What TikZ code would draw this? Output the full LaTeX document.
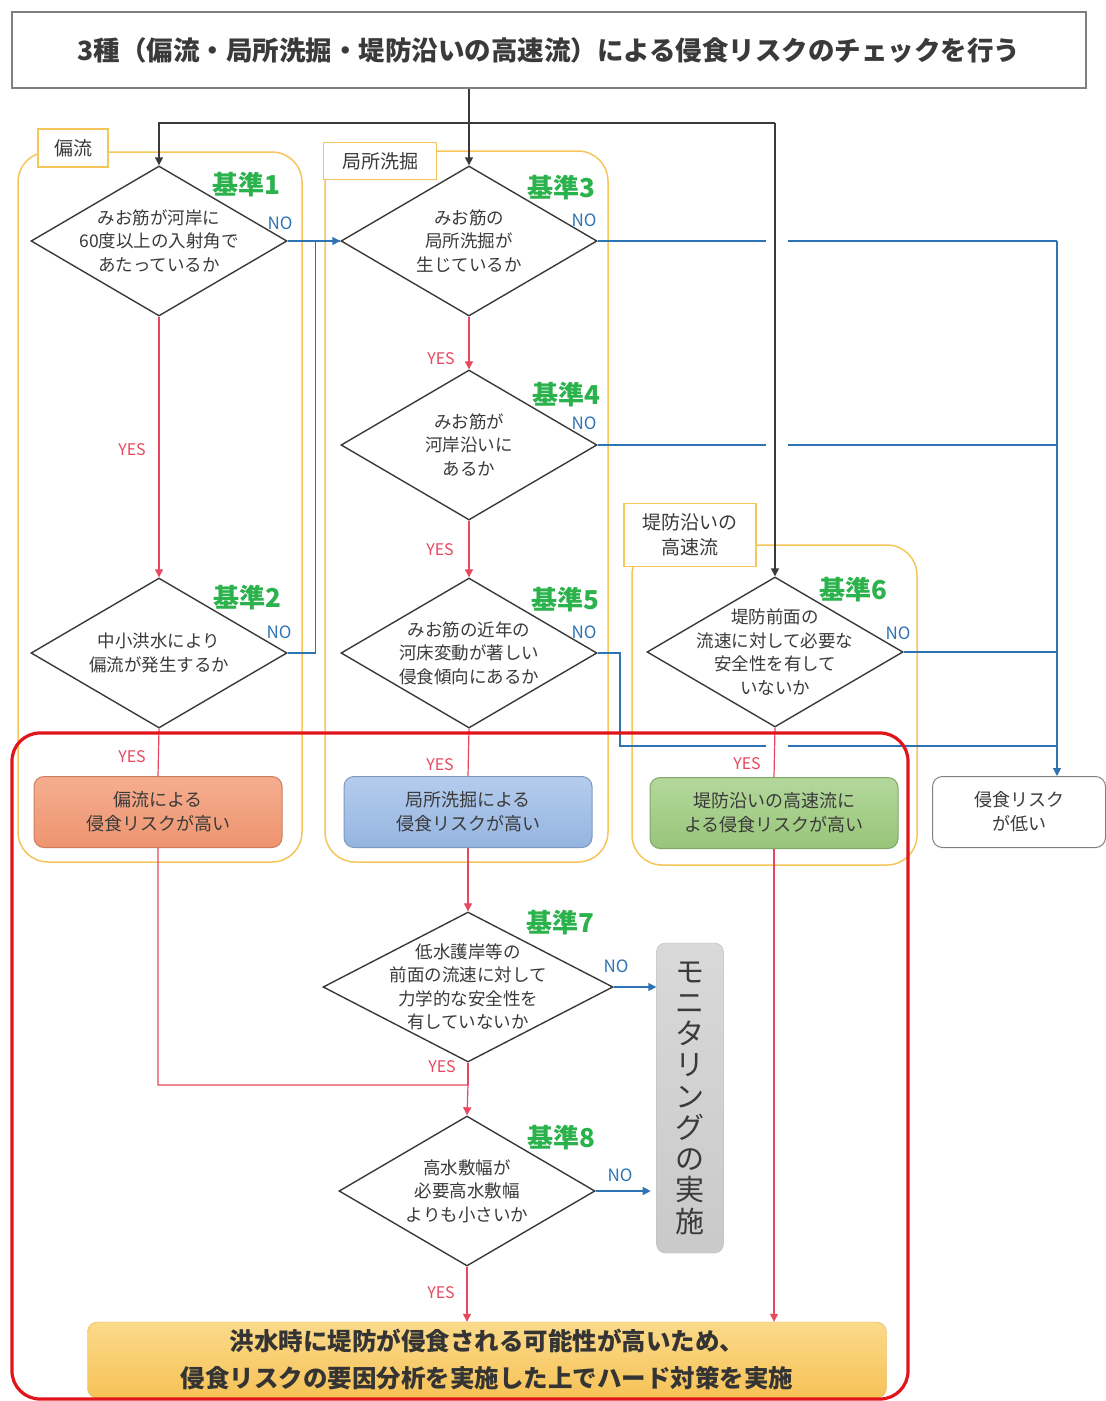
\documentclass[tikz,border=0pt]{standalone}
\usepackage{fontspec}
\setmainfont{Noto Sans CJK JP}
\usepackage{tikz}
\usetikzlibrary{shapes.geometric,arrows.meta}
\definecolor{gold}{HTML}{F6C65B}
\definecolor{kgreen}{HTML}{2BB24C}
\definecolor{noblue}{HTML}{2E74B5}
\definecolor{yesred}{HTML}{E8485F}
\definecolor{bigred}{HTML}{E1141C}
\definecolor{ink}{HTML}{3A3A3A}
\definecolor{salmontop}{HTML}{F5AE90}
\definecolor{salmonbot}{HTML}{EE946F}
\definecolor{skytop}{HTML}{B5CDEE}
\definecolor{skybot}{HTML}{94B4E0}
\definecolor{leaftop}{HTML}{B4D89C}
\definecolor{leafbot}{HTML}{98C57A}
\definecolor{ambertop}{HTML}{FBDA8A}
\definecolor{amberbot}{HTML}{F6C257}

\begin{document}
\begin{tikzpicture}[x=1pt,y=-1pt,
  decision/.style={diamond, draw=ink, line width=1.4pt, fill=white, minimum width=256pt, minimum height=150pt, inner sep=0pt},
  dtext/.style={align=center, text=ink, font=\fontsize{17.5}{23.5}\selectfont},
  grp/.style={draw=gold, line width=1.5pt, rounded corners=30pt},
  tag/.style={draw=gold, line width=1.5pt, fill=white, text=ink, align=center, font=\fontsize{19}{25}\selectfont},
  kijun/.style={text=kgreen, font=\fontsize{26}{26}\selectfont\bfseries},
  no/.style={text=noblue, font=\fontsize{17}{17}\selectfont},
  yes/.style={text=yesred, font=\fontsize{16}{16}\selectfont},
  result/.style={rounded corners=10pt, line width=1pt, minimum width=248pt, minimum height=71pt, align=center, text=ink, font=\fontsize{18}{24}\selectfont},
  noline/.style={draw=noblue, line width=1.4pt},
  yesline/.style={draw=yesred, line width=1.2pt},
  topline/.style={draw=ink, line width=1.4pt},
  tip/.style={-{Triangle[width=8pt,length=8pt]}},
]
\useasboundingbox (0,0) rectangle (1106,1401);
\fill[white] (0,0) rectangle (1106,1401);

% groups
\draw[grp] (18,152) rectangle (302,862);
\draw[grp] (325,151) rectangle (608,862);
\draw[grp] (632,545) rectangle (917,865);
\node[tag, minimum width=70pt, minimum height=38pt] (tag1) at (73,148) {偏流};
\node[tag, minimum width=113pt, minimum height=37pt] (tag2) at (380,161) {局所洗掘};
\node[tag, minimum width=132pt, minimum height=63pt] (tag3) at (690,535) {堤防沿いの\\高速流};

% title
\node[draw=gray, line width=1.5pt, fill=white, minimum width=1074pt, minimum height=76pt, text=ink, font=\fontsize{26.5}{27}\selectfont\bfseries] (title) at (549,50) {3種（偏流・局所洗掘・堤防沿いの高速流）による侵食リスクのチェックを行う};

% decisions
\node[decision, label={[dtext]center:{みお筋が河岸に\\60度以上の入射角で\\あたっているか}}] (d1) at (159,241) {};
\node[decision, label={[dtext]center:{中小洪水により\\偏流が発生するか}}] (d2) at (159,653) {};
\node[decision, label={[dtext]center:{みお筋の\\局所洗掘が\\生じているか}}] (d3) at (469,241) {};
\node[decision, label={[dtext]center:{みお筋が\\河岸沿いに\\あるか}}] (d4) at (469,445) {};
\node[decision, label={[dtext]center:{みお筋の近年の\\河床変動が著しい\\侵食傾向にあるか}}] (d5) at (469,653) {};
\node[decision, label={[dtext]center:{堤防前面の\\流速に対して必要な\\安全性を有して\\いないか}}] (d6) at (775,652) {};
\node[decision, minimum width=290pt, label={[dtext]center:{低水護岸等の\\前面の流速に対して\\力学的な安全性を\\有していないか}}] (d7) at (468,987) {};
\node[decision, label={[dtext]center:{高水敷幅が\\必要高水敷幅\\よりも小さいか}}] (d8) at (467,1191) {};

\node[kijun] (k1) at (246,185) {基準1};
\node[kijun] (k2) at (247,598) {基準2};
\node[kijun] (k3) at (561,188) {基準3};
\node[kijun] (k4) at (566,395) {基準4};
\node[kijun] (k5) at (565,600) {基準5};
\node[kijun] (k6) at (853,590) {基準6};
\node[kijun] (k7) at (560,923) {基準7};
\node[kijun] (k8) at (561,1138) {基準8};

\node[no] (n1) at (280,223) {NO};
\node[no] (n2) at (279,632) {NO};
\node[no] (n3) at (584,220) {NO};
\node[no] (n4) at (584,423) {NO};
\node[no] (n5) at (584,632) {NO};
\node[no] (n6) at (898,633) {NO};
\node[no] (n7) at (616,966) {NO};
\node[no] (n8) at (620,1175) {NO};

\node[yes] (y1) at (132,450) {YES};
\node[yes] (y2) at (132,757) {YES};
\node[yes] (y3) at (441,359) {YES};
\node[yes] (y4) at (440,550) {YES};
\node[yes] (y5) at (440,765) {YES};
\node[yes] (y6) at (747,764) {YES};
\node[yes] (y7) at (442,1067) {YES};
\node[yes] (y8) at (441,1293) {YES};

% outcomes
\node[result, draw=salmonbot!85!black, top color=salmontop, bottom color=salmonbot] (r1) at (158,812) {偏流による\\侵食リスクが高い};
\node[result, draw=skybot!85!black, top color=skytop, bottom color=skybot] (r2) at (468,812) {局所洗掘による\\侵食リスクが高い};
\node[result, draw=leafbot!85!black, top color=leaftop, bottom color=leafbot] (r3) at (774,813) {堤防沿いの高速流に\\よる侵食リスクが高い};
\node[result, draw=gray, fill=white, minimum width=173pt] (low) at (1019,812) {侵食リスク\\が低い};
\node[rounded corners=9pt, draw=gray!55, top color=gray!30, bottom color=gray!42, minimum width=67pt, minimum height=310pt, align=center, text=ink, font=\fontsize{29}{31.25}\selectfont] (mon) at (690,1098) {モ\\ニ\\タ\\リ\\ン\\グ\\の\\実\\施};
\node[rounded corners=10pt, draw=amberbot!90!black, top color=ambertop, bottom color=amberbot, minimum width=799pt, minimum height=76pt, align=center, text=ink!90!black, font=\fontsize{24.5}{37}\selectfont\bfseries] (final) at (487,1360) {洪水時に堤防が侵食される可能性が高いため、\\侵食リスクの要因分析を実施した上でハード対策を実施};

% NO connectors
\coordinate (drop) at (1057,241);
\coordinate (d5turn) at (620,746);
\draw[noline, tip] (d1.east) -- (d3.west);
\draw[noline] (d2.east) -- ++(28,0) |- (d3.west);
\draw[noline] (d3.east) -- (drop);
\draw[noline, tip] (drop) -- (drop |- low.north);
\draw[noline] (d4.east) -- (d4.east -| drop);
\draw[noline] (d6.east) -- (d6.east -| drop);
\draw[noline] (d5.east) -| (d5turn) -- (d5turn -| drop);
\draw[noline, tip] (d7.east) -- (d7.east -| mon.west);
\draw[noline, tip] (d8.east) -- ++(55,0);
\foreach \y in {241,445,746}
  \fill[white] (766,\y-4) rectangle (788,\y+4);

% top connectors
\coordinate (bus) at (469,123);
\draw[topline, tip] (title.south -| d3.north) -- (d3.north);
\draw[topline, tip] (bus -| d6.north) -- (bus -| d1.north) -- (d1.north);
\draw[topline, tip] (bus -| d6.north) -- (d6.north);

% YES connectors
\coordinate (join) at (468,1085);
\draw[yesline, tip] (d1.south) -- (d2.north);
\draw[yesline] (d2.south) -- (r1.north);
\draw[yesline, tip] (r1.south) |- (join) -- (d8.north);
\draw[yesline] (d7.south) -- (join);
\draw[yesline, tip] (d3.south) -- (d4.north);
\draw[yesline, tip] (d4.south) -- (d5.north);
\draw[yesline] (d5.south) -- (r2.north);
\draw[yesline, tip] (r2.south) -- (d7.north);
\draw[yesline] (d6.south) -- (r3.north);
\draw[yesline, tip] (r3.south) -- (r3.south |- final.north);
\draw[yesline, tip] (d8.south) -- (d8.south |- final.north);

% hard-measure frame
\draw[bigred, line width=3.2pt, rounded corners=28pt] (12,733) rectangle (908,1399);
\end{tikzpicture}
\end{document}
